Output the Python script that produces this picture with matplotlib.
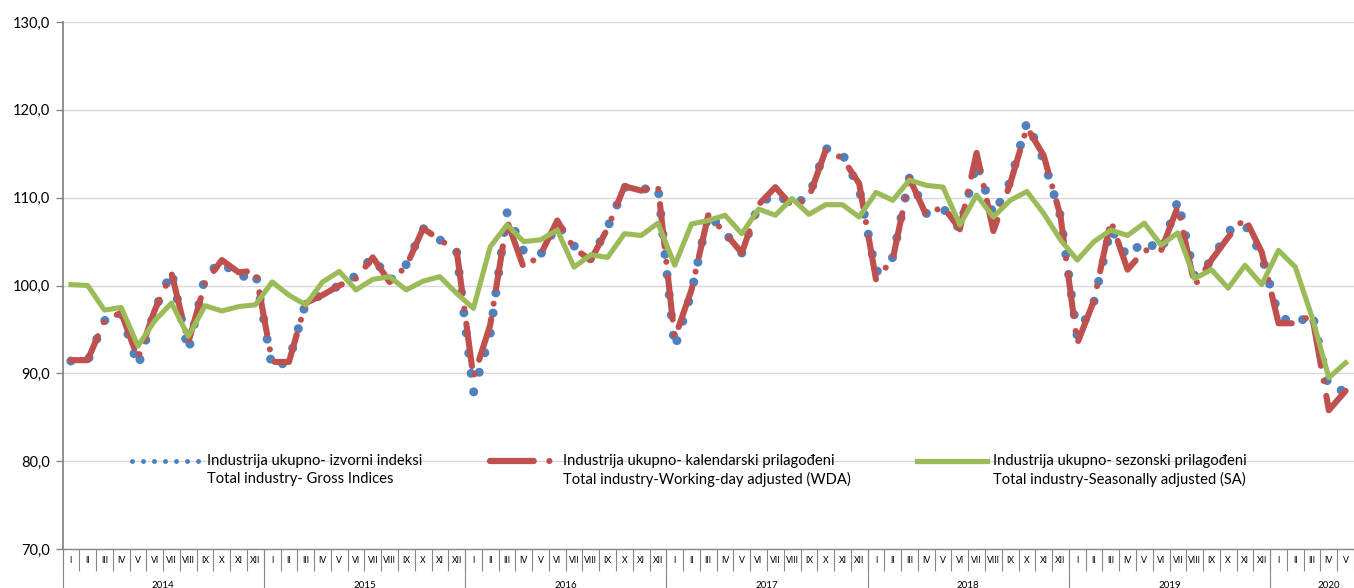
import matplotlib
matplotlib.use('Agg')
import matplotlib.pyplot as plt
from matplotlib.lines import Line2D
import numpy as np

plt.rcParams['font.family'] = ['Lato', 'DejaVu Sans']

years = ['2014', '2015', '2016', '2017', '2018', '2019', '2020']
months = ['I', 'II', 'III', 'IV', 'V', 'VI', 'VII', 'VIII', 'IX', 'X', 'XI', 'XII']

gross = [91.4, 91.4, 96.0, 96.9, 90.8, 97.2, 101.6, 92.5, 101.0, 102.8, 100.8, 101.6,
         90.6, 91.4, 98.0, 99.0, 100.0, 101.1, 103.3, 100.5, 102.4, 106.5, 105.2, 103.8,
         87.8, 94.5, 108.3, 103.9, 103.5, 107.0, 104.5, 103.0, 106.6, 111.2, 110.9, 111.3,
         92.9, 99.2, 108.2, 106.0, 103.7, 109.2, 110.5, 109.2, 110.1, 115.6, 115.0, 111.0,
         101.5, 103.2, 112.3, 108.2, 108.8, 106.4, 114.0, 108.0, 111.8, 118.6, 114.3, 107.9,
         94.2, 98.2, 106.5, 103.2, 105.2, 103.8, 109.7, 101.0, 102.8, 106.2, 107.0, 103.4,
         96.6, 95.5, 96.9, 88.3, 88.0]

wda = [91.5, 91.5, 96.0, 96.9, 91.7, 97.2, 101.4, 93.5, 100.3, 102.9, 101.5, 101.7,
       91.3, 91.3, 98.0, 98.9, 100.0, 100.8, 103.2, 100.4, 102.2, 106.5, 105.2, 104.0,
       89.5, 95.5, 107.4, 102.0, 103.5, 107.4, 104.2, 102.9, 106.5, 111.3, 110.8, 111.4,
       94.0, 99.5, 108.0, 106.0, 103.7, 109.2, 111.2, 109.0, 110.0, 115.4, 114.5, 111.6,
       100.7, 103.0, 112.2, 108.0, 109.0, 106.4, 115.1, 106.2, 111.6, 118.0, 114.8, 107.9,
       93.4, 98.3, 107.4, 101.8, 104.0, 104.0, 109.0, 100.0, 102.9, 105.5, 107.7, 103.8,
       95.7, 95.7, 96.6, 85.8, 88.0]

sa = [100.1, 100.0, 97.2, 97.5, 93.1, 96.0, 98.0, 94.2, 97.7, 97.1, 97.6, 97.8,
      100.4, 98.9, 97.8, 100.4, 101.6, 99.5, 100.7, 101.0, 99.5, 100.5, 101.0, 99.1,
      97.4, 104.4, 106.9, 105.0, 105.2, 106.3, 102.1, 103.5, 103.2, 105.9, 105.7, 107.1,
      102.3, 107.0, 107.4, 108.0, 105.9, 108.7, 108.0, 109.9, 108.1, 109.2, 109.2, 107.8,
      110.6, 109.7, 112.0, 111.4, 111.2, 106.9, 110.3, 107.8, 109.7, 110.7, 108.2, 105.2,
      102.9, 105.0, 106.3, 105.7, 107.1, 104.6, 106.0, 100.8, 101.8, 99.7, 102.3, 100.1,
      104.0, 102.1, 96.4, 89.5, 91.2]

labels = ['Industrija ukupno- izvorni indeksi\nTotal industry- Gross Indices',
          'Industrija ukupno- kalendarski prilagođeni\nTotal industry-Working-day adjusted (WDA)',
          'Industrija ukupno- sezonski prilagođeni\nTotal industry-Seasonally adjusted (SA)']

BLUE = '#4F81BD'
RED = '#C0504D'
GREEN = '#9BBB59'
GRID = '#D9D9D9'
AXIS = '#868686'

W, H = 1354, 588
fig = plt.figure(figsize=(W / 100, H / 100), dpi=100)
ax = fig.add_axes([62.5 / W, 39 / H, (W - 62.5) / W, 527 / H])

n = len(gross)
x = np.arange(n) + 0.5
ax.plot(x, gross, color=BLUE, lw=6.5, linestyle=(0, (0.001, 2.25)),
        dash_capstyle='round', zorder=3)
ax.plot(x, wda, color=RED, lw=4.4, linestyle=(0, (7, 2.5, 0.001, 2.5)),
        dash_capstyle='round', zorder=4)
ax.plot(x, sa, color=GREEN, lw=3.7, zorder=5, solid_joinstyle='round')

ax.set_xlim(0, 76.6)
ax.set_ylim(70, 130)
ax.set_yticks(np.arange(70, 131, 10))
ax.set_yticklabels([f'{v:.1f}'.replace('.', ',') for v in np.arange(70, 131, 10)], fontsize=10.5)
ax.yaxis.grid(True, color=GRID, lw=1.0)
ax.set_axisbelow(True)
for s in ['top', 'right']:
    ax.spines[s].set_visible(False)
ax.spines['left'].set_color(AXIS)
ax.spines['left'].set_linewidth(1.3)
ax.spines['bottom'].set_color(AXIS)
ax.spines['bottom'].set_linewidth(1.0)
ax.tick_params(axis='y', length=5, width=1, color=AXIS, pad=4, labelcolor='#000000')

# month separators
ax.set_xticks(np.arange(0, n + 1))
ax.set_xticklabels([])
ax.tick_params(axis='x', length=15.5, width=0.8, color=AXIS, direction='out')

xt = ax.get_xaxis_transform()
for i in range(n):
    ax.text(i + 0.5, -0.0215, months[i % 12], transform=xt, ha='center', va='center',
            fontsize=6.3, clip_on=False)
for k, yr in enumerate(years):
    start = 12 * k
    end = min(12 * (k + 1), 76.6)
    ax.text((start + end) / 2 if k < 6 else 12 * k + 3.5, -0.069, yr, transform=xt,
            ha='center', va='center', fontsize=7, clip_on=False)
    ax.plot([start, start], [0, -0.08], transform=xt, color=AXIS, lw=0.8, clip_on=False)

# legend (drawn manually to match layout)
def fx(px):
    return px / W

def fy(py):
    return (H - py) / H

y1, y2 = 461, 479
fig.add_artist(Line2D([fx(132), fx(199)], [fy(y1), fy(y1)], color=BLUE, lw=3.6,
                      linestyle=(0, (0.001, 2.2)), dash_capstyle='round'))
fig.add_artist(Line2D([fx(490), fx(553)], [fy(y1), fy(y1)], color=RED, lw=4.5,
                      linestyle=(0, (7, 2.5, 0.001, 2.5)), dash_capstyle='round'))
fig.add_artist(Line2D([fx(917), fx(987)], [fy(y1), fy(y1)], color=GREEN, lw=3.8))
for xs, lab in zip([207, 563, 993], labels):
    l1, l2 = lab.split('\n')
    fig.text(fx(xs), fy(y1), l1, ha='left', va='center', fontsize=10.6)
    fig.text(fx(xs), fy(y2), l2, ha='left', va='center', fontsize=10.6)

fig.savefig('out.png', dpi=100)
